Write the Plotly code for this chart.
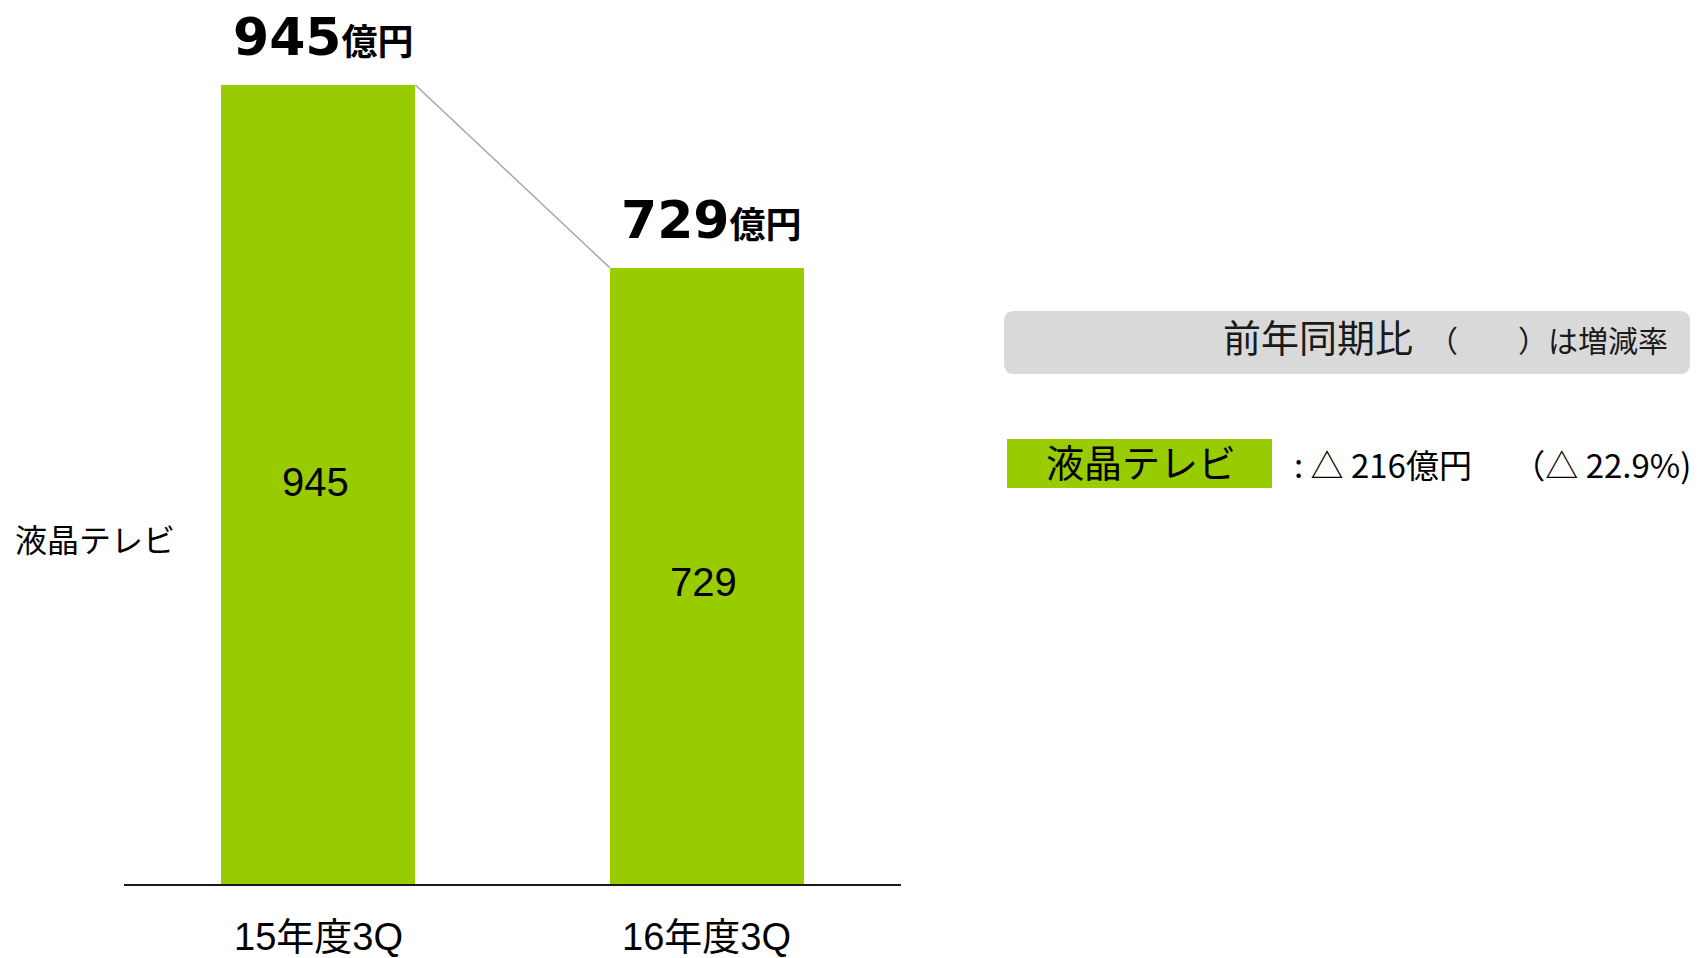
import plotly.graph_objects as go

# ---- data ----
categories = ["15年度3Q", "16年度3Q"]
series_name = "液晶テレビ"
values = [945, 729]
unit = "億円"
diff_text = ": △ 216億円　 （△ 22.9%)"
legend_title_main = "前年同期比"
legend_title_sub = "　（　　）は増減率"

# ---- layout constants (screen pixels) ----
W, H = 1702, 958
OFF = 8                      # page body margin offset of the plot div
PLOT_L, PLOT_R, PLOT_T, PLOT_B = 124, 901, 10, 884   # target plot area on screen
L = PLOT_L - OFF
T = PLOT_T - OFF
R = W - (PLOT_R - OFF)
B = H - (PLOT_B - OFF)
PW = PLOT_R - PLOT_L
PH = PLOT_B - PLOT_T
BAR_TOP_PX = 85
ymax = values[0] * PH / (PLOT_B - BAR_TOP_PX)
bar_w = 0.5
GREEN = "#99cc00"
CJK = "Noto Sans CJK JP"
inner_shift = [(-3, 3), (-3, -6)]   # fine placement of in-bar labels (px)


def px(x):
    return (x - PLOT_L) / PW


def py(y):
    return (PLOT_B - y) / PH


fig = go.Figure()
fig.add_trace(go.Bar(
    x=list(range(len(categories))), y=values, width=bar_w,
    marker=dict(color=GREEN, line=dict(width=0)),
    hoverinfo="skip", showlegend=False,
))
# connector line between bar tops
fig.add_trace(go.Scatter(
    x=[0 + bar_w / 2, 1 - bar_w / 2], y=values, mode="lines",
    line=dict(color="#a6a6a6", width=1.5), hoverinfo="skip", showlegend=False,
))

annotations = []
for i, v in enumerate(values):
    # value label above bar
    annotations.append(dict(
        x=i, y=v, xref="x", yref="y", xanchor="center", yanchor="middle",
        xshift=5, yshift=48, showarrow=False,
        text=f"<b>{v}</b><span style='font-size:36px'><b>{unit}</b></span>",
        font=dict(family=f"DejaVu Sans, {CJK}", size=52, color="black"),
    ))
    # value label inside bar
    annotations.append(dict(
        x=i, y=v / 2, xref="x", yref="y", xanchor="center", yanchor="middle",
        xshift=inner_shift[i][0], yshift=inner_shift[i][1], showarrow=False,
        text=str(v),
        font=dict(family="Liberation Sans, Arial, sans-serif", size=40, color="black"),
    ))
    # category label
    annotations.append(dict(
        x=i, y=0, xref="x", yref="y", xanchor="center", yanchor="middle",
        yshift=-53, showarrow=False, text=categories[i],
        font=dict(family=f"Liberation Sans, {CJK}", size=38, color="black"),
    ))

# left series label
annotations.append(dict(
    x=px(13), y=py(538), xref="paper", yref="paper", xanchor="left", yanchor="middle",
    showarrow=False, text=series_name, font=dict(family=CJK, size=32, color="black"),
))
# gray box title
annotations.append(dict(
    x=px(1670), y=py(335), xref="paper", yref="paper", xanchor="right", yanchor="middle",
    showarrow=False,
    text=f"{legend_title_main}<span style='font-size:30px'>{legend_title_sub}</span>",
    font=dict(family=CJK, size=38, color="#1a1a1a"),
))
# green legend box text
annotations.append(dict(
    x=px(1141), y=py(460), xref="paper", yref="paper", xanchor="center", yanchor="middle",
    showarrow=False, text=series_name, font=dict(family=CJK, size=38, color="black"),
))
annotations.append(dict(
    x=px(1292), y=py(464), xref="paper", yref="paper", xanchor="left", yanchor="middle",
    showarrow=False, text=diff_text, font=dict(family=CJK, size=33, color="black"),
))

# rounded gray box
x0, x1, y0, y1 = px(1004), px(1690), py(374), py(311)
rx, ry = 10 / PW, 10 / PH
path = (f"M {x0+rx},{y0} L {x1-rx},{y0} Q {x1},{y0} {x1},{y0+ry} "
        f"L {x1},{y1-ry} Q {x1},{y1} {x1-rx},{y1} L {x0+rx},{y1} "
        f"Q {x0},{y1} {x0},{y1-ry} L {x0},{y0+ry} Q {x0},{y0} {x0+rx},{y0} Z")
shapes = [
    dict(type="path", xref="paper", yref="paper", path=path,
         fillcolor="#d9d9d9", line=dict(width=0), layer="below"),
    dict(type="rect", xref="paper", yref="paper", x0=px(1007), x1=px(1272),
         y0=py(488), y1=py(439), fillcolor=GREEN, line=dict(width=0), layer="below"),
]

fig.update_layout(
    width=W, height=H, margin=dict(l=L, r=R, t=T, b=B),
    paper_bgcolor="white", plot_bgcolor="white",
    xaxis=dict(range=[-0.5, len(categories) - 0.5], showgrid=False, zeroline=False,
               showticklabels=False, ticks="", showline=True, linecolor="#1a1a1a",
               linewidth=2, fixedrange=True),
    yaxis=dict(range=[0, ymax], visible=False, fixedrange=True),
    annotations=annotations, shapes=shapes,
    bargap=0, showlegend=False,
)

fig.write_html("out.html", config={"displayModeBar": False})
